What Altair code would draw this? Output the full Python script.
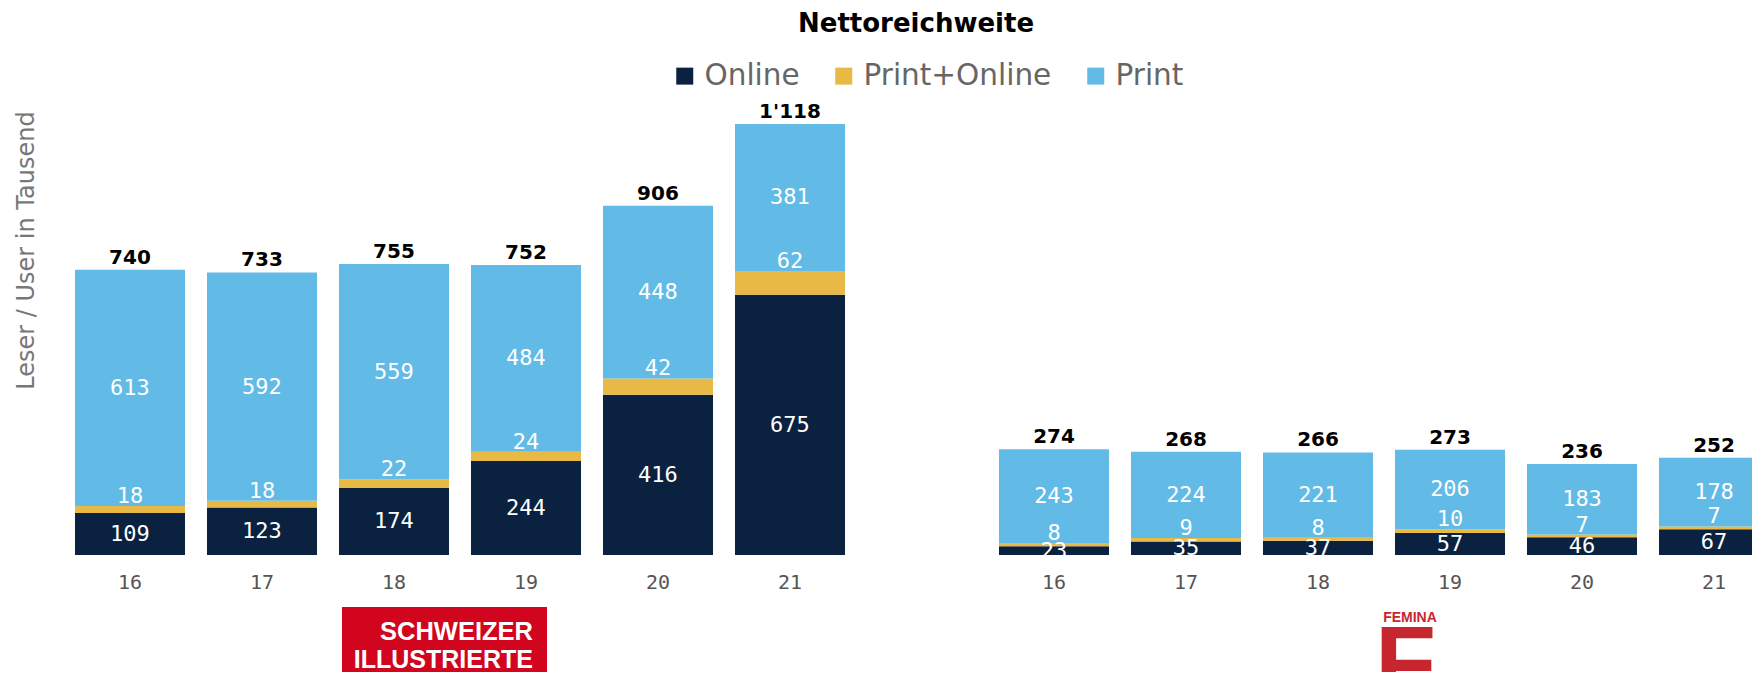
import altair as alt
import pandas as pd

years = ["16", "17", "18", "19", "20", "21"]
series = ["Online", "Print+Online", "Print"]
colors = ["#0A2240", "#E8B944", "#62BAE6"]

si_online = [109, 123, 174, 244, 416, 675]
si_print_online = [18, 18, 22, 24, 42, 62]
si_print = [613, 592, 559, 484, 448, 381]

fe_online = [23, 35, 37, 57, 46, 67]
fe_print_online = [8, 9, 8, 10, 7, 7]
fe_print = [243, 224, 221, 206, 183, 178]

si_cats = ["SI " + y for y in years]
fe_cats = ["FE " + y for y in years]
x_domain = si_cats + ["gap"] + fe_cats

rows = []
for cats, vals in [(si_cats, [si_online, si_print_online, si_print]),
                   (fe_cats, [fe_online, fe_print_online, fe_print])]:
    for i, c in enumerate(cats):
        for k, s in enumerate(series):
            rows.append({"cat": c, "series": s, "value": vals[k][i], "order": k})
df = pd.DataFrame(rows)

tot = df.groupby("cat", as_index=False)["value"].sum().rename(columns={"value": "total"})
tot["label"] = tot["total"].map(lambda v: f"{v:,}".replace(",", "'"))

x_enc = alt.X(
    "cat:N",
    scale=alt.Scale(domain=x_domain, range=[0, 1716], paddingInner=0.1667, paddingOuter=0.0833),
    axis=alt.Axis(
        title=None, ticks=False, domain=False,
        labelExpr="datum.label == 'gap' ? '' : slice(datum.label, -2)",
        labelFont="DejaVu Sans Mono", labelFontSize=20, labelColor="#555555",
        labelPadding=17, labelAngle=0,
    ),
)

y_scale = alt.Scale(domain=[0, 1118], nice=False, zero=True)

base = alt.Chart(df).transform_stack(
    stack="value", groupby=["cat"], as_=["y0", "y1"], sort=[alt.SortField("order")]
).transform_calculate(mid="(datum.y0 + datum.y1) / 2")

bars = base.mark_bar(clip=True).encode(
    x=x_enc,
    y=alt.Y(
        "y0:Q", scale=y_scale,
        axis=alt.Axis(
            title="Leser / User in Tausend", labels=False, ticks=False, domain=False, grid=False,
            titleFont="DejaVu Sans", titleFontSize=24, titleFontWeight="normal", titleColor="#777777",
            titleX=-31, titleY=126, titleAngle=270, titleAlign="center", titleBaseline="alphabetic",
        ),
    ),
    y2="y1:Q",
    color=alt.Color(
        "series:N",
        scale=alt.Scale(domain=series, range=colors),
        legend=alt.Legend(
            title=None, orient="none", direction="horizontal", legendX=606, legendY=-63,
            symbolType="square", symbolSize=289, symbolStrokeWidth=0, symbolOpacity=1,
            labelFont="DejaVu Sans", labelFontSize=29.5, labelColor="#666666",
            labelOffset=5, columnPadding=29, labelLimit=400,
        ),
    ),
)

mid_labels = base.transform_filter("datum.series != 'Print+Online'").mark_text(
    font="DejaVu Sans Mono", fontSize=22, color="white", baseline="middle", align="center"
).encode(x=x_enc, y=alt.Y("mid:Q", scale=y_scale), text="value:Q")

po_labels = base.transform_filter("datum.series == 'Print+Online'").mark_text(
    font="DejaVu Sans Mono", fontSize=22, color="white", baseline="middle", align="center", dy=-10
).encode(x=x_enc, y=alt.Y("y1:Q", scale=y_scale), text="value:Q")

tot_labels = alt.Chart(tot).mark_text(
    font="DejaVu Sans", fontSize=20, fontWeight="bold", color="black", baseline="middle", dy=-12
).encode(x=x_enc, y=alt.Y("total:Q", scale=y_scale), text="label:N")

# logos (decorative, anchored to the category bands; xOffset counts from band start)
logo_si = pd.DataFrame({"cat": ["SI 18"]})
si_box = alt.Chart(logo_si).mark_bar(color="#D2051E", width=205).encode(
    x=x_enc, xOffset=alt.value(105.5), y=alt.value(483), y2=alt.value(570)
)
si_t1 = alt.Chart(logo_si).mark_text(
    text="SCHWEIZER", font="Liberation Sans", fontWeight="bold", fontSize=25.5,
    color="white", align="right", baseline="alphabetic"
).encode(x=x_enc, xOffset=alt.value(194), y=alt.value(516))
si_t2 = alt.Chart(logo_si).mark_text(
    text="ILLUSTRIERTE", font="Liberation Sans", fontWeight="bold", fontSize=25,
    color="white", align="right", baseline="alphabetic"
).encode(x=x_enc, xOffset=alt.value(194), y=alt.value(544))

logo_fe = pd.DataFrame({"cat": ["FE 19"]})
fe_t1 = alt.Chart(logo_fe).mark_text(
    text="FEMINA", font="Liberation Sans", fontWeight="bold", fontSize=14,
    color="#C8262E", align="center", baseline="alphabetic"
).encode(x=x_enc, xOffset=alt.value(15), y=alt.value(498))
fe_t2 = alt.Chart(logo_fe).mark_text(
    text="F", font="Liberation Sans", fontWeight="bold", fontSize=100,
    color="#C8262E", align="left", baseline="alphabetic"
).encode(x=x_enc, xOffset=alt.value(-20), y=alt.value(572))

chart = alt.layer(
    bars, mid_labels, po_labels, tot_labels, si_box, si_t1, si_t2, fe_t1, fe_t2
).properties(
    width=1688, height=431,
    title=alt.TitleParams(
        text="Nettoreichweite", font="DejaVu Sans", fontSize=26, fontWeight="bold",
        color="black", anchor="middle", dx=8, offset=24,
    ),
    autosize=alt.AutoSizeParams(type="none"),
    padding={"left": 56, "top": 116, "right": 0, "bottom": 117},
).configure_view(stroke=None)

chart.save("out.html", embed_options={"renderer": "svg", "actions": False})
